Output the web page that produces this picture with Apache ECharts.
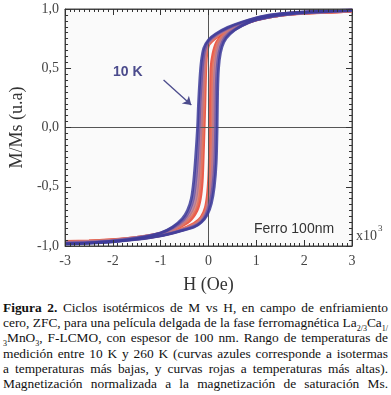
<!DOCTYPE html>
<html>
<head>
<meta charset="utf-8">
<script src="https://cdn.jsdelivr.net/npm/echarts@6/dist/echarts.min.js"></script>
<style>
  body { margin: 0; background: #fff; }
  #main { width: 391px; height: 299px; }
  #cap { width: 385px; padding: 1px 3px 0 3px; font-family: "Liberation Serif", "DejaVu Serif", serif; font-size: 13.4px; line-height: 15.2px; color: #111; }
  #cap .ln { text-align: justify; text-align-last: justify; white-space: nowrap; }
  #cap sub { font-size: 8px; line-height: 0; }
</style>
</head>
<body>
<div id="main"></div>
<div id="cap">
  <div class="ln"><b>Figura 2.</b> Ciclos isotérmicos de M vs H, en campo de enfriamiento</div>
  <div class="ln">cero, ZFC, para una película delgada de la fase ferromagnética La<sub>2/3</sub>Ca<sub>1/</sub></div>
  <div class="ln"><sub>3</sub>MnO<sub>3</sub>, F-LCMO, con espesor de 100 nm. Rango de temperaturas de</div>
  <div class="ln">medición entre 10 K y 260 K (curvas azules corresponde a isotermas</div>
  <div class="ln">a temperaturas más bajas, y curvas rojas a temperaturas más altas).</div>
  <div class="ln">Magnetización normalizada a la magnetización de saturación Ms.</div>
</div>
<script>
// H in kOe (axis shows x10^3 Oe), M/Ms
var xTicks = [-3, -2, -1, 0, 1, 2, 3];
var yTicks = [-1, -0.5, 0, 0.5, 1];

// 10 K
var down10 = [[3,0.99],[2.5,0.985],[2,0.975],[1.5,0.96],[1.1,0.935],[0.7,0.89],[0.4,0.845],[0.15,0.79],[0,0.74],[-0.1,0.67],[-0.15,0.56],[-0.18,0.42],[-0.21,0.2],[-0.23,0],[-0.27,-0.25],[-0.31,-0.45],[-0.36,-0.6],[-0.44,-0.7],[-0.55,-0.77],[-0.75,-0.84],[-1,-0.89],[-1.5,-0.935],[-2,-0.96],[-2.5,-0.975],[-3,-0.98]];
var up10 = [[-3,-0.985],[-2.5,-0.975],[-2,-0.965],[-1.5,-0.945],[-1,-0.915],[-0.6,-0.875],[-0.3,-0.84],[-0.15,-0.8],[-0.03,-0.74],[0.06,-0.64],[0.12,-0.5],[0.16,-0.3],[0.18,0],[0.19,0.3],[0.21,0.5],[0.25,0.63],[0.32,0.72],[0.45,0.79],[0.7,0.86],[1,0.91],[1.5,0.95],[2,0.97],[2.5,0.98],[3,0.99]];
// intermediate
var down60 = [[3,0.99],[2.5,0.983],[2,0.973],[1.5,0.958],[1.1,0.932],[0.7,0.885],[0.4,0.838],[0.15,0.782],[0,0.73],[-0.08,0.66],[-0.12,0.55],[-0.15,0.4],[-0.18,0.2],[-0.2,0],[-0.23,-0.25],[-0.27,-0.45],[-0.32,-0.6],[-0.4,-0.7],[-0.52,-0.775],[-0.75,-0.845],[-1,-0.89],[-1.5,-0.932],[-2,-0.957],[-2.5,-0.97],[-3,-0.977]];
var up60 = [[-3,-0.982],[-2.5,-0.972],[-2,-0.962],[-1.5,-0.942],[-1,-0.912],[-0.6,-0.872],[-0.3,-0.835],[-0.15,-0.795],[-0.05,-0.735],[0.03,-0.64],[0.09,-0.5],[0.13,-0.3],[0.15,0],[0.16,0.3],[0.18,0.5],[0.22,0.63],[0.29,0.72],[0.42,0.79],[0.7,0.86],[1,0.908],[1.5,0.948],[2,0.968],[2.5,0.978],[3,0.988]];
var down120 = [[3,0.988],[2.5,0.98],[2,0.97],[1.5,0.955],[1.1,0.928],[0.7,0.88],[0.4,0.83],[0.15,0.775],[0,0.72],[-0.07,0.64],[-0.1,0.52],[-0.12,0.38],[-0.14,0.2],[-0.16,0],[-0.19,-0.25],[-0.22,-0.45],[-0.27,-0.6],[-0.35,-0.7],[-0.48,-0.775],[-0.72,-0.85],[-1,-0.893],[-1.5,-0.93],[-2,-0.954],[-2.5,-0.966],[-3,-0.972]];
var up120 = [[-3,-0.978],[-2.5,-0.968],[-2,-0.958],[-1.5,-0.94],[-1,-0.91],[-0.6,-0.87],[-0.3,-0.828],[-0.15,-0.785],[-0.05,-0.72],[0.01,-0.62],[0.06,-0.5],[0.09,-0.3],[0.11,0],[0.12,0.3],[0.14,0.5],[0.18,0.63],[0.25,0.72],[0.4,0.795],[0.7,0.862],[1,0.91],[1.5,0.948],[2,0.968],[2.5,0.978],[3,0.987]];
var down190 = [[3,0.987],[2.5,0.978],[2,0.968],[1.5,0.952],[1.1,0.925],[0.7,0.876],[0.4,0.825],[0.15,0.765],[0,0.71],[-0.06,0.62],[-0.08,0.5],[-0.1,0.35],[-0.11,0.2],[-0.13,0],[-0.15,-0.25],[-0.18,-0.45],[-0.22,-0.6],[-0.3,-0.7],[-0.44,-0.78],[-0.7,-0.852],[-1,-0.896],[-1.5,-0.93],[-2,-0.952],[-2.5,-0.962],[-3,-0.968]];
var up190 = [[-3,-0.974],[-2.5,-0.965],[-2,-0.955],[-1.5,-0.938],[-1,-0.908],[-0.6,-0.868],[-0.3,-0.82],[-0.15,-0.77],[-0.05,-0.7],[0,-0.6],[0.04,-0.45],[0.06,-0.3],[0.08,0],[0.09,0.3],[0.1,0.5],[0.14,0.62],[0.21,0.72],[0.38,0.8],[0.65,0.862],[1,0.912],[1.5,0.949],[2,0.968],[2.5,0.977],[3,0.986]];
// 260 K
var down260 = [[3,0.985],[2.5,0.976],[2,0.966],[1.5,0.95],[1.1,0.922],[0.7,0.872],[0.4,0.82],[0.15,0.76],[0,0.7],[-0.05,0.6],[-0.07,0.45],[-0.085,0.2],[-0.1,0],[-0.12,-0.25],[-0.14,-0.45],[-0.18,-0.6],[-0.25,-0.7],[-0.4,-0.785],[-0.7,-0.855],[-1,-0.898],[-1.5,-0.93],[-2,-0.95],[-2.5,-0.96],[-3,-0.965]];
var up260 = [[-3,-0.97],[-2.5,-0.962],[-2,-0.952],[-1.5,-0.935],[-1,-0.906],[-0.6,-0.866],[-0.3,-0.812],[-0.15,-0.76],[-0.06,-0.68],[-0.01,-0.55],[0.02,-0.35],[0.04,0],[0.05,0.3],[0.06,0.5],[0.1,0.62],[0.18,0.72],[0.35,0.8],[0.6,0.86],[1,0.913],[1.5,0.95],[2,0.968],[2.5,0.976],[3,0.985]];

var loops = [
  {name: '260 K', down: down260, up: up260, color: '#e8402c', width: 3.6},
  {name: '190 K', down: down190, up: up190, color: '#de7a68', width: 3.4},
  {name: '120 K', down: down120, up: up120, color: '#b07592', width: 3.2},
  {name: '60 K', down: down60, up: up60, color: '#6a55a3', width: 3},
  {name: '10 K', down: down10, up: up10, color: '#3c3b99', width: 2.8}
];

var arrowFrom = [-0.94, 0.40];
var arrowTo = [-0.36, 0.19];

function fmt(v){ return v.toFixed(1).replace('.', ','); }

var dom = document.getElementById('main');
var myChart = echarts.init(dom);
var serif = '"Liberation Serif", "DejaVu Serif", serif';

var series = [{
  type: 'line', data: [], z: 1, silent: true,
  markLine: {
    silent: true, symbol: 'none', animation: false,
    label: {show: false},
    lineStyle: {color: '#555', width: 1, type: 'solid'},
    data: [{xAxis: 0}, {yAxis: 0}]
  }
}];
loops.forEach(function(l, i){
  [l.down, l.up].forEach(function(d){
    series.push({
      name: l.name, type: 'line', data: d, z: 2 + i,
      showSymbol: false, smooth: 0.25, animation: false,
      lineStyle: {color: l.color, width: l.width, opacity: 0.85}
    });
  });
});
series.push({
  type: 'line', data: [], z: 20,
  markLine: {
    silent: true, animation: false, symbol: ['none', 'arrow'], symbolSize: 8,
    label: {show: false},
    lineStyle: {color: '#4b4b8c', width: 1.3, type: 'solid'},
    data: [[{coord: arrowFrom}, {coord: arrowTo}]]
  }
});

function ticks(){
  return {
    axisLine: {show: true, onZero: false, lineStyle: {color: '#444', width: 1}},
    axisTick: {show: true, inside: true, length: 6, lineStyle: {color: '#333', width: 1}},
    minorTick: {show: true, splitNumber: 10, length: 3, lineStyle: {color: '#333', width: 1}},
    splitLine: {show: false}
  };
}

var option = {
  backgroundColor: '#fff',
  animation: false,
  grid: {left: 58, right: 39, top: 9, bottom: 50, show: true, backgroundColor: '#fafafa', borderColor: '#444', borderWidth: 1, z: 0},
  xAxis: [
    Object.assign({type: 'value', min: -3, max: 3, interval: 1, position: 'bottom', z: 30,
      axisLabel: {color: '#444', fontFamily: serif, fontSize: 14, margin: 8, formatter: function(v){ return xTicks.indexOf(v) >= 0 ? String(v) : ''; }},
      name: 'H (Oe)', nameLocation: 'middle', nameGap: 30,
      nameTextStyle: {color: '#333', fontFamily: serif, fontSize: 18}}, ticks()),
    Object.assign({type: 'value', min: -3, max: 3, interval: 1, position: 'top', z: 30, axisLabel: {show: false}}, ticks())
  ],
  yAxis: [
    Object.assign({type: 'value', min: -1, max: 1, interval: 0.5, position: 'left', z: 30,
      axisLabel: {color: '#444', fontFamily: serif, fontSize: 14, margin: 6, formatter: function(v){ return yTicks.indexOf(v) >= 0 ? fmt(v) : ''; }},
      name: 'M/Ms (u.a)', nameLocation: 'middle', nameGap: 38,
      nameTextStyle: {color: '#333', fontFamily: serif, fontSize: 18}}, ticks()),
    Object.assign({type: 'value', min: -1, max: 1, interval: 0.5, position: 'right', z: 30, axisLabel: {show: false}}, ticks())
  ],
  graphic: [
    {type: 'text', left: 113, top: 65, style: {text: '10 K', fill: '#4b4b8c', font: 'bold 14px "Liberation Sans", Arial, sans-serif'}},
    {type: 'text', left: 254, top: 222, style: {text: 'Ferro 100nm', fill: '#333', font: '14px "Liberation Sans", Arial, sans-serif'}},
    {type: 'text', left: 356, top: 229, style: {text: 'x10', fill: '#444', font: '14px ' + serif}},
    {type: 'text', left: 378, top: 224, style: {text: '3', fill: '#444', font: '9px ' + serif}}
  ],
  series: series
};

if (option && typeof option === "object") {
  myChart.setOption(option, true);
}
</script>
</body>
</html>
